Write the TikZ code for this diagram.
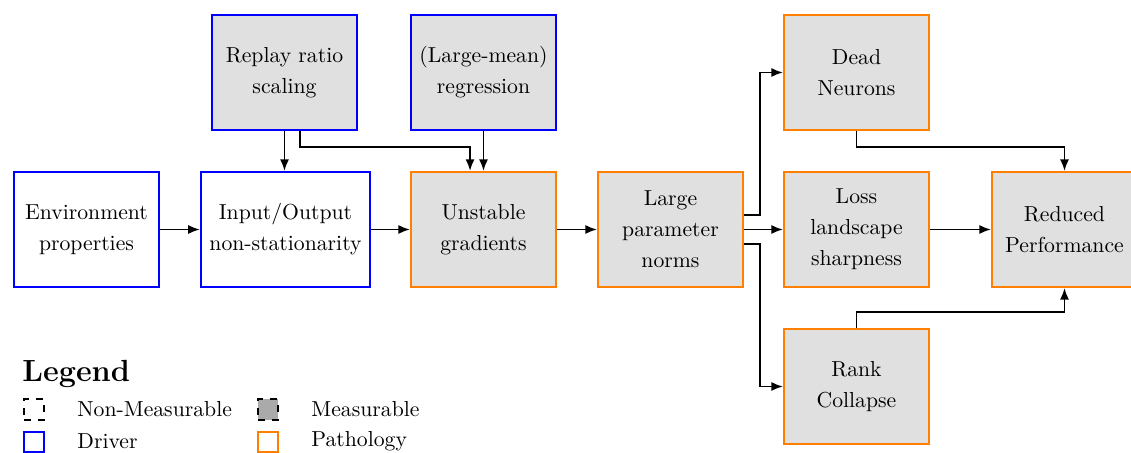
\documentclass[tikz,border=0pt]{standalone}
\usetikzlibrary{arrows.meta,calc}
\definecolor{drv}{RGB}{0,0,255}
\definecolor{pth}{RGB}{255,128,0}
\definecolor{boxfill}{RGB}{224,224,224}
\definecolor{measfill}{RGB}{170,170,170}
\tikzset{
  box/.style={draw, line width=1pt, fill=boxfill, minimum width=66.7pt, minimum height=52.9pt,
    align=center, inner sep=2pt, font=\fontsize{10}{14.3}\selectfont},
  driver/.style={box, draw=drv},
  nmdriver/.style={box, draw=drv, fill=white},
  patho/.style={box, draw=pth},
  arr/.style={-{Latex[length=5.4pt,width=4.2pt]}, line width=0.85pt, black},
  legsq/.style={minimum width=9.6pt, minimum height=9.6pt, inner sep=0pt, line width=0.9pt},
  legtxt/.style={anchor=west, inner sep=0pt, font=\normalsize},
}
\begin{document}
\begin{tikzpicture}[x=0.4608pt,y=-0.4608pt]
\useasboundingbox (0,0) rectangle (1131,453);
\clip (0,0) rectangle (1131,453);
% nodes
\node[driver] (replay) at (284.5,72.5) {Replay ratio\\scaling};
\node[driver] (regr) at (483.5,72.5) {(Large-mean)\\regression};
\node[nmdriver] (env) at (86.5,229.5) {Environment\\properties};
\node[nmdriver, minimum width=77.9pt] (io) at (285.5,229.5) {Input/Output\\non-stationarity};
\node[patho] (unst) at (483.5,229.5) {Unstable\\gradients};
\node[patho] (large) at (670.5,229.5) {Large\\parameter\\norms};
\node[patho] (dead) at (856.5,72.5) {Dead\\Neurons};
\node[patho] (loss) at (856.5,229.5) {Loss\\landscape\\sharpness};
\node[patho] (rank) at (856.5,386.5) {Rank\\Collapse};
\node[patho] (red) at (1064.5,229.5) {Reduced\\Performance};
% connectors
\draw[arr] (replay.south) -- (replay.south |- io.north);
\draw[arr] ([xshift=7.1pt]replay.south) -- ++(0,16) -| ([xshift=-6.2pt]unst.north);
\draw[arr] (regr.south) -- (unst.north);
\draw[arr] (env) -- (io);
\draw[arr] (io) -- (unst);
\draw[arr] (unst) -- (large);
\draw[arr] (large) -- (loss);
\draw[arr] ([yshift=6.7pt]large.east) -- ++(16,0) |- (dead.west);
\draw[arr] ([yshift=-6.7pt]large.east) -- ++(16,0) |- (rank.west);
\draw[arr] (loss) -- (red);
\draw[arr] (dead.south) -- ++(0,16) -| (red.north);
\draw[arr] (rank.north) -- ++(0,-16) -| (red.south);
% legend
\node[anchor=base west, inner sep=0pt, font=\fontsize{14.1}{16}\selectfont\bfseries] (legtitle) at (22,382) {Legend};
\node[legsq, draw=black, dash pattern=on 3.3pt off 3.3pt, fill=white] (l1) at (34,409.5) {};
\node[legtxt] (t1) at (77,409.5) {Non-Measurable};
\node[legsq, draw=black, dash pattern=on 3.3pt off 3.3pt, fill=measfill] (l2) at (268,409.5) {};
\node[legtxt] (t2) at (311,409.5) {Measurable};
\node[legsq, draw=drv, fill=white] (l3) at (34,442) {};
\node[legtxt] (t3) at (77,441.5) {Driver};
\node[legsq, draw=pth, fill=white] (l4) at (268,442) {};
\node[legtxt] (t4) at (311,441.5) {Pathology};
\end{tikzpicture}
\end{document}
